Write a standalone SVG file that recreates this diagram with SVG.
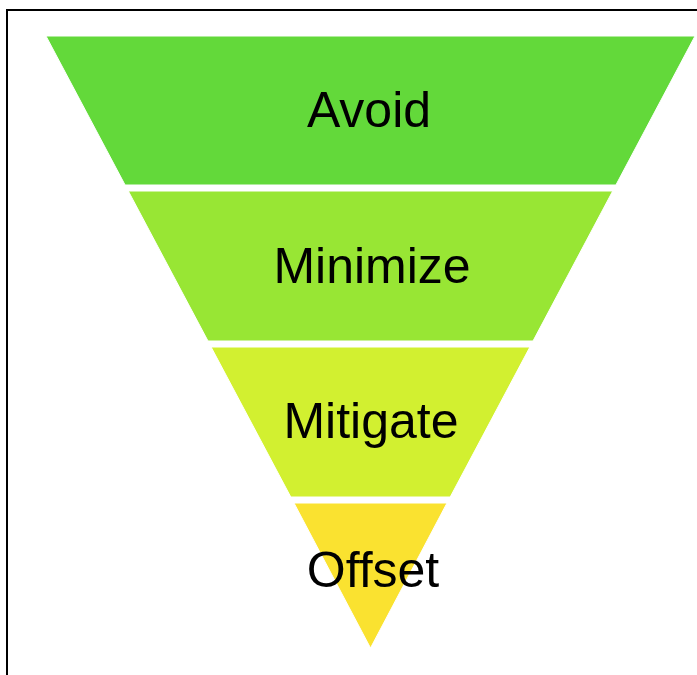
<svg xmlns="http://www.w3.org/2000/svg" width="697" height="675" viewBox="0 0 697 675">
  <style>
    .band { stroke: #ffffff; stroke-width: 1; }
    .label { font-family: "Liberation Sans", Arial, sans-serif; font-size: 50px; fill: #000000; text-anchor: middle; }
  </style>
  <rect x="0" y="0" width="697" height="675" fill="#ffffff"/>
  <rect id="frame" x="7" y="10" width="720" height="700" fill="none" stroke="#000000" stroke-width="2"/>
  <g id="avoid">
    <polygon class="band" points="46,36 695,36 615.9,185 125.1,185" fill="#63D93A"/>
    <text class="label" x="369" y="127">Avoid</text>
  </g>
  <g id="minimize">
    <polygon class="band" points="128.3,191 612.7,191 533,341 208,341" fill="#98E634"/>
    <text class="label" x="372" y="283">Minimize</text>
  </g>
  <g id="mitigate">
    <polygon class="band" points="211.1,347 529.9,347 450.2,497 290.8,497" fill="#D2F030"/>
    <text class="label" x="371" y="438">Mitigate</text>
  </g>
  <g id="offset">
    <polygon class="band" points="294,503 447,503 370.5,648" fill="#FAE230"/>
    <text class="label" x="373" y="587">Offset</text>
  </g>
  <g id="connectors"/>
</svg>
